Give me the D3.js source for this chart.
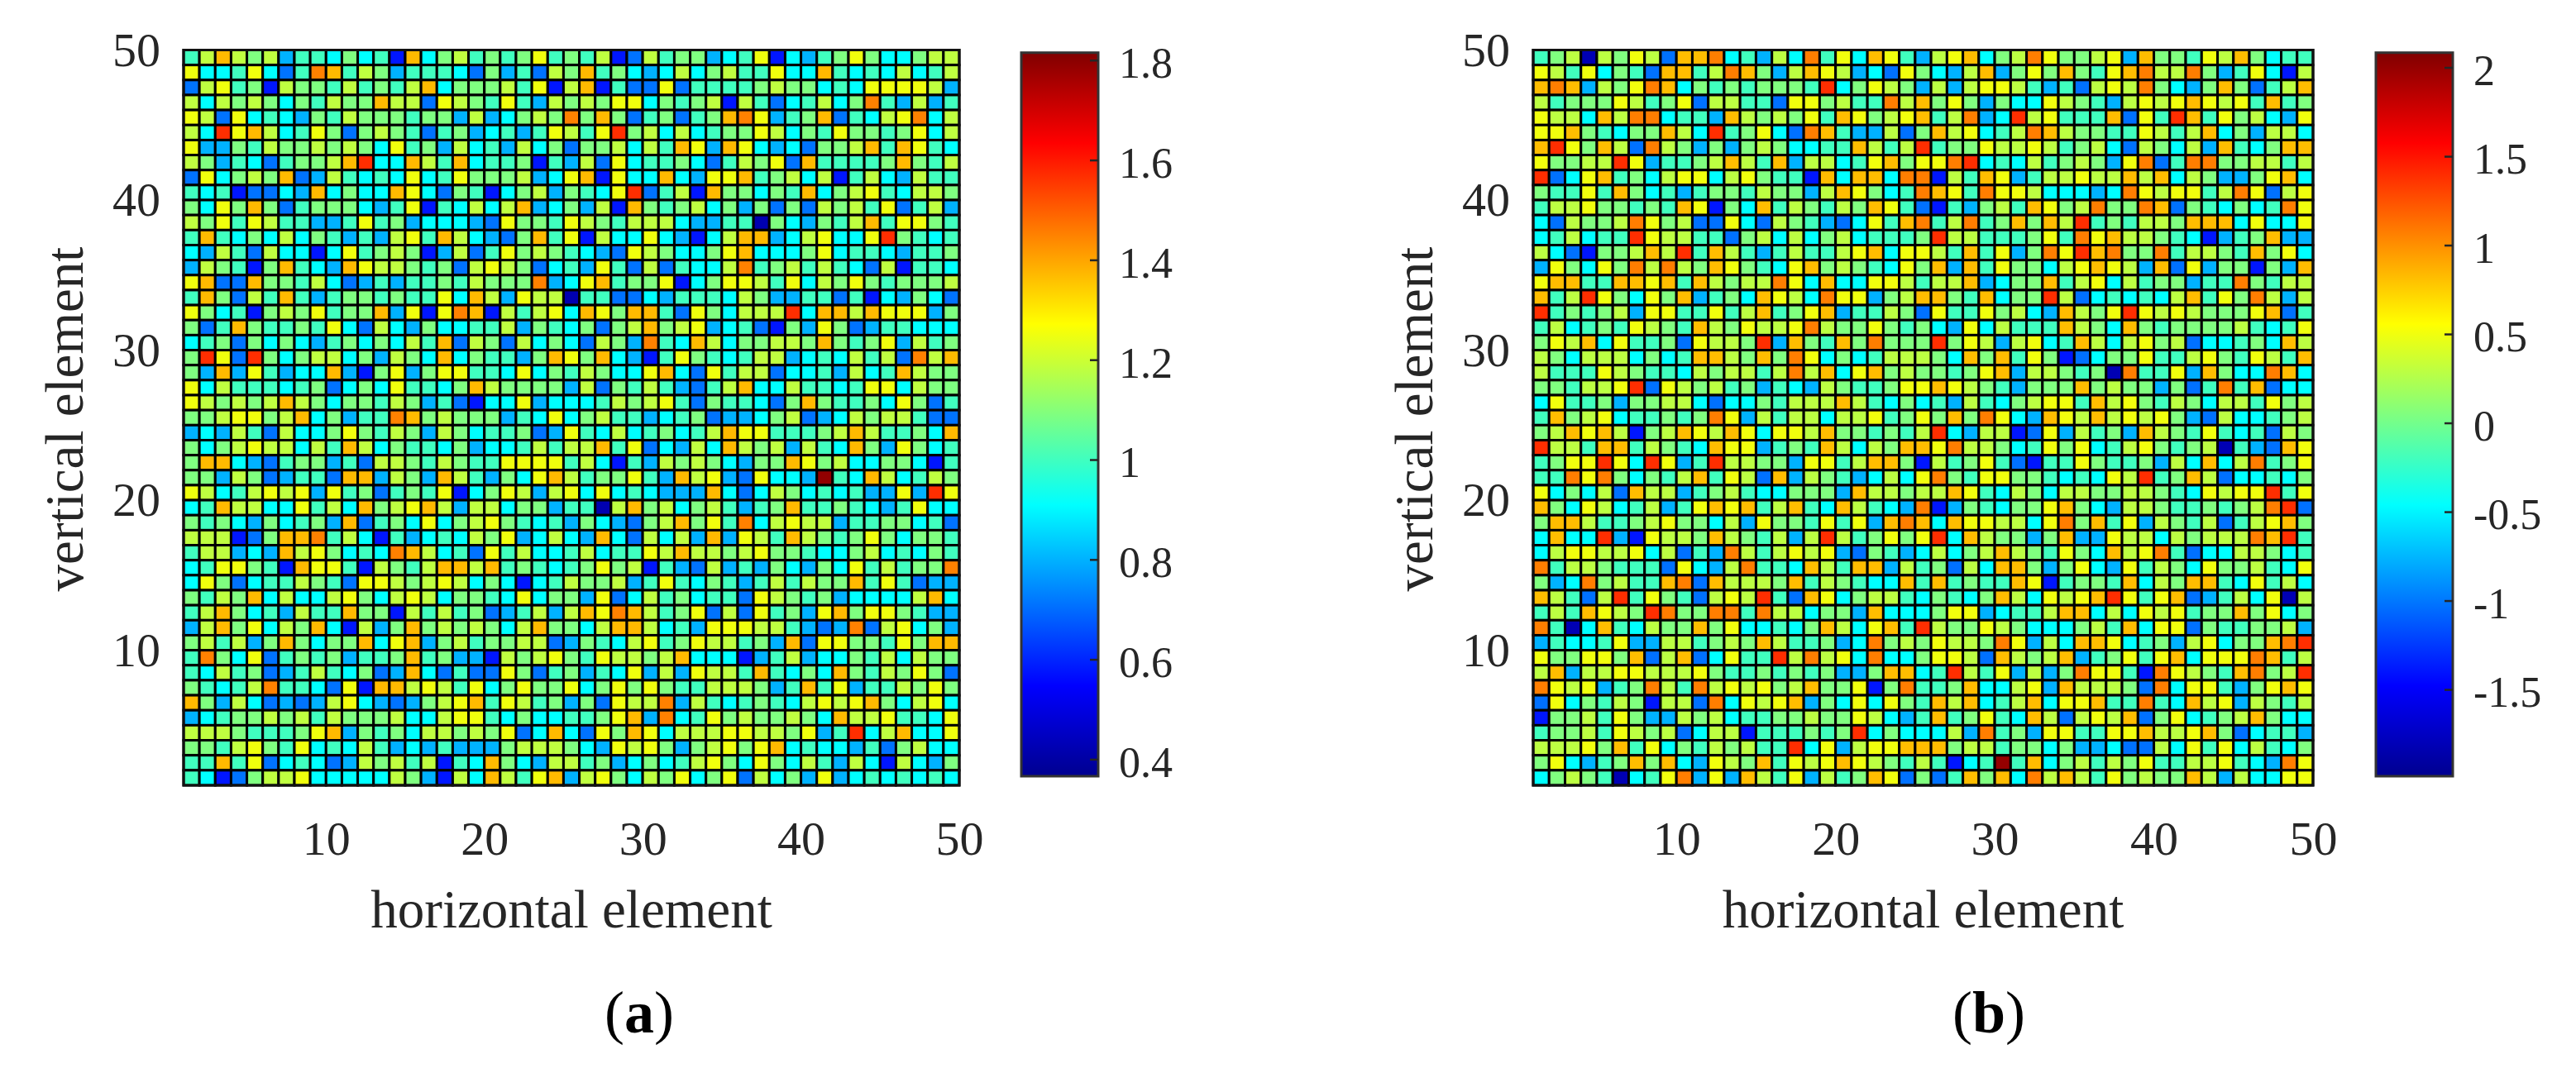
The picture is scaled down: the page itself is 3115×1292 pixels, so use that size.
<!DOCTYPE html>
<html>
<head>
<meta charset="utf-8">
<script src="https://cdn.jsdelivr.net/npm/d3@7"></script>
<style>
  body { margin: 0; background: #fff; }
  text { font-family: "Liberation Serif", serif; fill: #262626; }
</style>
</head>
<body>
<div id="chart"></div>
<script>
const bandValuesA = [0.42, 0.58, 0.71, 0.80, 0.91, 1.00, 1.09, 1.18, 1.25, 1.37, 1.45, 1.57, 1.79];
const bandValuesB = [-1.82, -1.38, -1.03, -0.77, -0.46, -0.20, 0.05, 0.29, 0.50, 0.82, 1.07, 1.39, 2.00];

const axisTicks = [10, 20, 30, 40, 50];
const colorTicksA = [0.4, 0.6, 0.8, 1, 1.2, 1.4, 1.6, 1.8];
const colorTicksB = [-1.5, -1, -0.5, 0, 0.5, 1, 1.5, 2];
const colorRangeA = [0.366, 1.815];
const colorRangeB = [-1.988, 2.083];
const jetStops = [0, 0.125, 0.375, 0.625, 0.875, 1];
const jetColors = ["#00008f", "#0000ff", "#00ffff", "#ffff00", "#ff0000", "#800000"];

// rows top to bottom (vertical 50 -> 1), columns left to right
const rowsA = [
"57976 73554 64519 46756 56856 57127 56634 58143 56864 4677",
"84458 425a9 57635 55426 35276 95643 47467 55844 95454 7457",
"27856 17665 75657 94666 75817 91522 82555 56766 45488 8873",
"74767 64657 66977 28765 85376 76884 65671 75245 746a5 3735",
"87284 54365 76665 66373 4676a 69625 62569 a8356 92547 8a47",
"74b89 74586 26765 25634 53587 58b67 47456 68746 58665 6847",
"83365 76676 76485 63745 37462 66747 59839 84342 66795 9854",
"76354 25667 9b449 75945 56153 72845 56425 76829 55556 9657",
"28467 69237 54548 45866 67348 91844 94388 95674 71574 3755",
"54512 24394 64498 42651 46736 548b2 57196 64659 46785 4776",
"64869 62566 64358 15474 79346 37196 56746 36262 76758 2573",
"76858 75533 58563 44432 86658 76577 74335 50643 65795 8865",
"59546 47465 35378 59743 26958 17448 43147 99347 8448b 6545",
"43752 74414 85676 13725 86765 43287 64468 94446 84554 3556",
"37651 69543 98776 56278 76245 38527 25447 a5675 75427 1554",
"89229 66574 23535 56576 66a34 89566 81468 87584 76865 6667",
"59627 59535 66565 58497 38770 55224 35554 76335 52514 3642",
"86451 67685 66938 18a91 75784 98699 52864 777b4 99798 8836",
"62596 55658 42743 64455 73654 62679 67834 52163 86235 5444",
"45626 46435 64647 59276 27464 2763a 54974 66776 96568 3756",
"6b82b 64677 46376 49465 53698 69431 58654 57734 54757 2a79",
"63938 53449 31683 68855 48465 76448 94285 77244 53745 9766",
"84755 54562 46485 54697 66663 72657 53257 94475 54588 4766",
"87676 79764 66576 35214 48344 45767 85265 54269 65564 8625",
"66788 67946 355a9 67666 35484 67553 45623 34672 34767 7522",
"34375 27446 86576 37645 56238 54745 64579 88555 67975 5649",
"64678 77475 97465 54634 45757 79582 43749 76737 54963 8645",
"69943 25663 52776 57655 88885 74153 76764 36698 67446 6415",
"66376 23552 99376 39753 64897 56685 39783 28443 c5497 4576",
"87457 87838 56256 58146 87378 48454 33394 24764 54533 83b8",
"45977 44857 49678 97377 46635 50796 74675 35695 56543 5844",
"65643 64563 92564 84678 65453 64326 79685 a4787 73556 6452",
"77712 699a5 74153 45476 83474 39427 47393 87597 65686 4665",
"57734 39786 454a9 74528 57445 74558 79776 78665 44674 5465",
"45886 51988 51765 79979 56545 68671 53273 53643 64857 566a",
"48624 55765 28876 78746 41457 66735 85465 35757 66958 5233",
"65769 47447 86478 74665 48466 38247 56455 28765 63444 4794",
"57964 53755 96617 57562 35737 98a97 56827 28563 89688 6533",
"37968 47694 17369 67676 47966 47997 45388 87753 23a27 8463",
"67573 69646 69489 36756 67723 65478 56877 56392 88665 8699",
"5a648 25656 35569 56331 76786 58776 79444 13573 44657 4766",
"54756 23575 46239 42522 86256 35483 73877 59546 49657 6862",
"65457 a5542 81997 87584 68668 46868 65577 76359 58355 7686",
"96374 23237 84323 67895 87563 62877 a3754 56547 87896 4784",
"34566 76757 66674 47885 46445 56893 a4586 76676 49778 5548",
"77765 55689 36564 77676 82494 28698 47778 87768 35b47 9448",
"66578 65845 47534 35333 67776 43878 63678 68945 44352 6744",
"55958 24542 37675 71549 64377 56346 45786 48647 53741 7436",
"54126 77844 44476 31749 75893 78647 68468 27463 83454 5454"
];

const rowsB = [
"56707 68729 9a453 74a58 49853 78946 7a866 78396 65879 6455",
"87584 65299 57a96 37987 34286 43793 68696 589a7 7a635 8417",
"9a937 68a94 65656 665b4 68763 73788 75352 787a6 43696 2579",
"75666 87568 27755 28867 55a79 68636 44876 53787 89878 5956",
"87749 7aa45 53976 76859 86789 57a34 b7855 59285 b9586 7438",
"88965 46697 4b568 42a95 33726 97845 7a976 65587 57946 3774",
"9b869 72a76 36367 64455 9757b 56687 78756 74276 47395 4699",
"86677 b8355 67975 93774 58968 8ab45 47567 638a2 5aa66 7757",
"b2489 56478 84786 55194 994aa 17598 35778 77979 47633 6894",
"65585 96453 56657 66379 8645a 985a8 87444 34a87 8857a 8278",
"57786 65659 81649 57657 69852 15367 59867 a66a9 26546 45a8",
"42766 7a867 22842 76532 4859a 57a56 9697b 56577 69994 8448",
"45745 5b877 55267 47467 45556 b7755 5685a 89776 54135 6933",
"74216 6797b 59753 57557 89488 75958 36a8b 9a66a 57765 9684",
"38648 6a7a7 69865 48967 65486 93958 66478 98739 28366 1639",
"89955 99895 97677 a8494 48875 77934 66957 84756 6355a 6577",
"957b8 64869 35649 874a8 83679 96594 66b72 45454 79586 a737",
"b5656 73885 58579 56893 55762 85586 74397 68b87 87666 8925",
"57456 58765 97687 78a76 68656 43847 55597 64965 66667 5458",
"68794 85562 8776b 39659 6a666 b6873 78459 74786 72445 6497",
"76477 74645 99769 6a846 45777 64969 58612 46685 57865 8759",
"75558 76554 76775 7a794 89676 65689 37765 60a55 83964 4a94",
"66577 8b287 67563 54376 55688 98765 36669 67663 625a5 9244",
"48556 36677 42446 57779 75464 53754 67885 97865 76477 5867",
"59678 45565 6a837 57747 78568 696a8 43987 97878 63274 4567",
"67989 71679 87984 88796 65657 b4377 12837 56397 65854 5276",
"b7759 95765 49883 56597 47699 8a776 45868 45786 56705 3298",
"5688b 84b83 5b776 63885 79961 75685 21558 65563 74947 a568",
"55a8a 64657 95872 93765 34748 a6588 66545 487b5 69724 4546",
"84647 29773 56754 46663 97767 79854 76477 66776 54878 8b58",
"96487 45735 89895 79549 7543a 13654 66896 43776 55656 7ab2",
"69975 56786 64738 66585 839a9 49887 748a6 95837 65725 7896",
"4944b 31877 69765 737b7 56868 b4976 63693 38774 76777 a9b5",
"47887 78472 53a75 78783 26534 74679 76586 4978a 52447 7645",
"a5776 55528 437a5 54975 99375 62749 96368 43857 64866 7548",
"634a6 7559a 29777 69576 54495 95655 98156 65947 69954 8574",
"97527 b5865 2787b 52984 67754 65469 74878 9b858 92357 4807",
"57598 76ba6 6aa5a 77466 39444 68834 55799 47487 85669 6846",
"a5049 54766 96844 54697 4895b 76687 64446 75948 82655 6673",
"35445 83377 56769 75563 4a676 8776a 83749 98456 37846 69ab",
"86688 69279 24855 b7a78 4a446 88729 76793 56858 94888 a957",
"79377 88777 86556 56563 36994 5b758 3736a 8851a 87659 a67b",
"a8783 56a75 a7878 67966 816a5 56944 78397 7762a 48853 6898",
"28465 76177 2a487 89364 84865 97945 79488 955a5 49783 7657",
"16675 86337 67455 66766 87435 95685 49727 87926 84567 9644",
"56675 87672 47715 55656 b4644 473a5 63885 58897 78962 4553",
"77786 95846 57675 5b483 78899 96775 66463 34227 48584 7546",
"68435 69694 38769 58789 87657 5145c 59467 57685 57785 43a8",
"46765 0458a 38397 58375 69826 25969 4a797 58676 69737 4488"
];

const svg = d3.select("#chart").append("svg")
    .attr("width", 3115)
    .attr("height", 1292);

const defs = svg.append("defs");

// the reference is a slightly soft raster, so the cells get a small blur
defs.append("filter")
    .attr("id", "soft")
    .append("feGaussianBlur")
    .attr("stdDeviation", 0.7);

function drawPanel(opt) {
    const x = d3.scaleLinear().domain([1, 50]).range([opt.left, opt.right]);
    const y = d3.scaleLinear().domain([1, 50]).range([950, 60.5]);

    const colorFrac = d3.scaleLinear().domain(opt.colorRange).range([0, 1]);
    const jet = d3.scaleLinear().domain(jetStops).range(jetColors);

    const cells = [];
    opt.rows.forEach((row, r) => {
        row.replace(/ /g, "").split("").forEach((c, i) => {
            cells.push({ col: i + 1, row: 49 - r, value: opt.bands[parseInt(c, 16)] });
        });
    });

    svg.append("g")
        .attr("filter", "url(#soft)")
        .selectAll("rect")
        .data(cells)
        .enter()
        .append("rect")
        .attr("x", d => x(d.col))
        .attr("y", d => y(d.row + 1))
        .attr("width", d => x(d.col + 1) - x(d.col))
        .attr("height", d => y(d.row) - y(d.row + 1))
        .attr("fill", d => jet(colorFrac(d.value)))
        .attr("stroke", "#000")
        .attr("stroke-width", 3);

    svg.append("rect")
        .attr("x", opt.left)
        .attr("y", 60.5)
        .attr("width", opt.right - opt.left)
        .attr("height", 889.5)
        .attr("fill", "none")
        .attr("stroke", "#111")
        .attr("stroke-width", 3);

    // axes, the ticks themselves disappear in the grid
    const xAxis = svg.append("g")
        .attr("transform", "translate(0,950)")
        .call(d3.axisBottom(x).tickValues(axisTicks).tickSize(0).tickPadding(43));
    const yAxis = svg.append("g")
        .attr("transform", "translate(" + opt.left + ",0)")
        .call(d3.axisLeft(y).tickValues(axisTicks).tickSize(0).tickPadding(28));
    xAxis.select(".domain").remove();
    yAxis.select(".domain").remove();
    xAxis.selectAll("text").style("font-size", "58px");
    yAxis.selectAll("text").style("font-size", "58px");

    svg.append("text")
        .attr("x", (opt.left + opt.right) / 2)
        .attr("y", 1122)
        .attr("text-anchor", "middle")
        .style("font-size", "65px")
        .text("horizontal element");

    svg.append("text")
        .attr("transform", "translate(" + (opt.left - 122) + ",507) rotate(-90)")
        .attr("text-anchor", "middle")
        .style("font-size", "65px")
        .text("vertical element");

    // colorbar
    const gradient = defs.append("linearGradient")
        .attr("id", opt.id)
        .attr("x1", 0).attr("y1", 1).attr("x2", 0).attr("y2", 0);
    gradient.selectAll("stop")
        .data(jetStops)
        .enter()
        .append("stop")
        .attr("offset", d => d)
        .attr("stop-color", d => jet(d));

    const c = d3.scaleLinear().domain(opt.colorRange).range([939, 63.7]);
    svg.append("rect")
        .attr("x", opt.barLeft)
        .attr("y", 63.7)
        .attr("width", 93)
        .attr("height", 875.3)
        .attr("fill", "url(#" + opt.id + ")")
        .attr("stroke", "#333")
        .attr("stroke-width", 3);

    const colorAxis = svg.append("g")
        .attr("transform", "translate(" + (opt.barLeft + 93) + ",0)")
        .call(d3.axisRight(c).tickValues(opt.colorTicks).tickSize(-10).tickPadding(25).tickFormat(d => String(d)));
    colorAxis.select(".domain").remove();
    colorAxis.selectAll("line").attr("stroke", "#262626").attr("stroke-width", 2.5);
    colorAxis.selectAll("text").attr("dy", "0.4em").style("font-size", "52px");

    const caption = svg.append("text")
        .attr("x", opt.captionX)
        .attr("y", 1249)
        .attr("text-anchor", "middle")
        .style("font-size", "72px")
        .style("fill", "#000");
    caption.append("tspan").text("(");
    caption.append("tspan").style("font-weight", "bold").text(opt.caption);
    caption.append("tspan").text(")");
}

drawPanel({
    id: "jetA", rows: rowsA, bands: bandValuesA, colorRange: colorRangeA, colorTicks: colorTicksA,
    left: 222, right: 1160, barLeft: 1235, caption: "a", captionX: 773
});
drawPanel({
    id: "jetB", rows: rowsB, bands: bandValuesB, colorRange: colorRangeB, colorTicks: colorTicksB,
    left: 1854, right: 2797, barLeft: 2873, caption: "b", captionX: 2405
});
</script>
</body>
</html>
